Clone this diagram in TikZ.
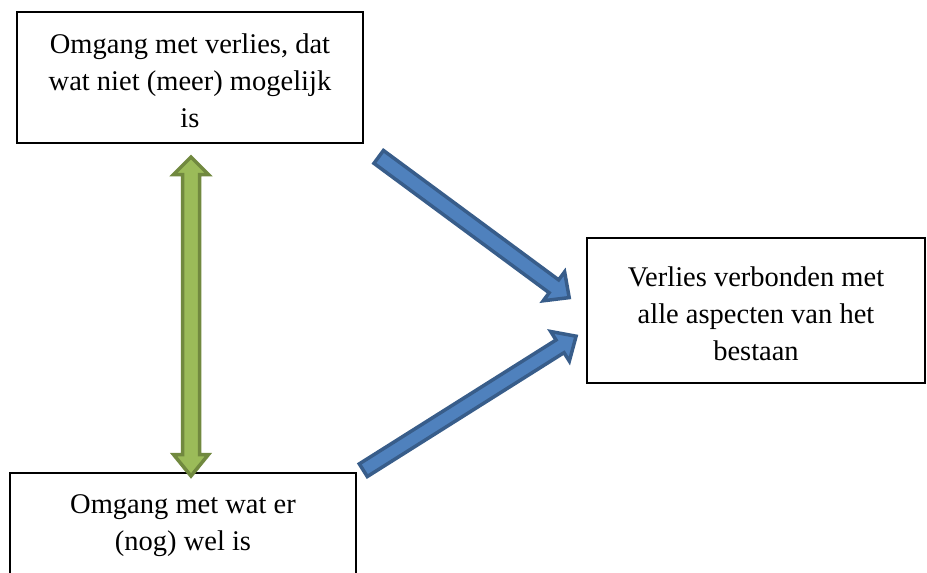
\documentclass[tikz,border=0pt]{standalone}
\usepackage{fontspec}
\setmainfont{Liberation Serif}
\usetikzlibrary{calc}

\definecolor{blockblue}{HTML}{4F81BD}
\definecolor{blockblueedge}{HTML}{385D8A}
\definecolor{blockgreen}{HTML}{9BBB59}
\definecolor{blockgreenedge}{HTML}{71893F}

% block arrow: #1 style, #2 tail, #3 tip, #4 shaft half width, #5 head half width, #6 head length
\newcommand\blockarrow[6]{%
  \coordinate (hb) at ($(#3)!#6!(#2)$);
  \path[#1] ($(#2)!#4!90:(#3)$) -- ($(hb)!#4!-90:(#2)$) -- ($(hb)!#5!-90:(#2)$)
    -- (#3) -- ($(hb)!#5!90:(#2)$) -- ($(hb)!#4!90:(#2)$) -- ($(#2)!#4!-90:(#3)$) -- cycle;
}

\begin{document}
\begin{tikzpicture}[x=1pt,y=-1pt,
  box/.style={draw=black, line width=1.7pt, fill=white, inner sep=0pt},
  txt/.style={align=center, font=\fontsize{28.5}{37}\selectfont, inner sep=0pt},
  bluearrow/.style={fill=blockblue, draw=blockblueedge, line width=3.5pt, line join=miter},
  greenarrow/.style={fill=blockgreen, draw=blockgreenedge, line width=3.5pt, line join=miter}]
\useasboundingbox (0,0) rectangle (927,573);

% boxes
\node[box, minimum width=346pt, minimum height=131pt] (b1) at (190,77.5) {};
\node[box, minimum width=338pt, minimum height=145pt] (b3) at (756,310.5) {};
\node[box, minimum width=346pt, minimum height=150pt] (b2) at (183,548) {};

% texts
\node[txt] (t1) at (190,80.5) {Omgang met verlies, dat\\wat niet (meer) mogelijk\\is};
\node[txt] (t3) at (756,313.5) {Verlies verbonden met\\alle aspecten van het\\bestaan};
\node[txt] (t2) at (183,526) {Omgang met wat er\\(nog) wel is};

% blue block arrows
\coordinate (a1s) at (378.7,156.9);
\coordinate (a1e) at (569.2,297.6);
\blockarrow{bluearrow}{a1s}{a1e}{8pt}{18pt}{19pt}
\coordinate (a2s) at (363.3,470.2);
\coordinate (a2e) at (576.1,336.2);
\blockarrow{bluearrow}{a2s}{a2e}{7.5pt}{17.5pt}{19pt}

% green double block arrow
\coordinate (gt) at (191,157);
\coordinate (gb) at (191,476);
\path[greenarrow] (gt) -- ($(gt)+(17.5,17.5)$) -- ($(gt)+(8.5,17.5)$)
  -- ($(gb)+(8.5,-21.5)$) -- ($(gb)+(17.5,-21.5)$) -- (gb)
  -- ($(gb)+(-17.5,-21.5)$) -- ($(gb)+(-8.5,-21.5)$)
  -- ($(gt)+(-8.5,17.5)$) -- ($(gt)+(-17.5,17.5)$) -- cycle;
\end{tikzpicture}
\end{document}
